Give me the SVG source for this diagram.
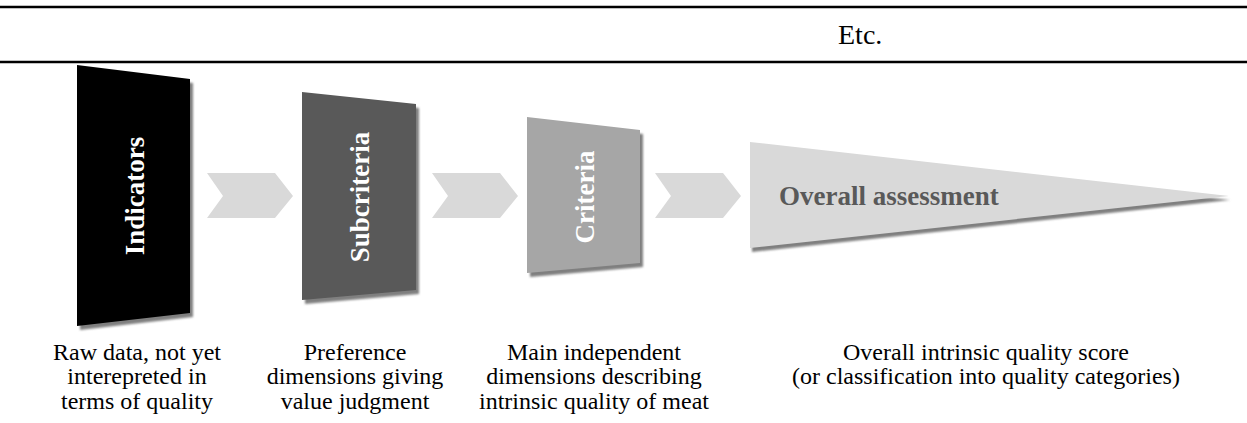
<svg xmlns="http://www.w3.org/2000/svg" width="1247" height="423" viewBox="0 0 1247 423">
<defs>
<filter id="sh" x="-10%" y="-10%" width="120%" height="120%"><feGaussianBlur stdDeviation="0.8"/></filter>
</defs>
<style>
.rule{stroke:#000;stroke-width:2.5}
.chev{fill:#d9d9d9}
.shadow{fill:#7f7f7f;filter:url(#sh)}
.boxlabel{font-family:"Liberation Serif","Times New Roman",serif;font-weight:bold;font-size:27px;fill:#fff;text-anchor:middle}
.cap{font-family:"Liberation Serif","Times New Roman",serif;font-size:24px;fill:#000;text-anchor:middle}
.etc{font-family:"Liberation Serif","Times New Roman",serif;font-size:28px;fill:#000}
</style>
<rect width="1247" height="423" fill="#fff"/>
<line class="rule" x1="0" y1="7" x2="1247" y2="7"/>
<line class="rule" x1="0" y1="62" x2="1247" y2="62"/>
<text class="etc" x="838" y="44">Etc.</text>

<g id="connectors">
<polygon class="chev" points="207,173 275,173 293,196 275,218 207,218 223,196"/>
<polygon class="chev" points="432,173 500,173 518,196 500,218 432,218 448,196"/>
<polygon class="chev" points="655,173 723,173 741,196 723,218 655,218 671,196"/>
</g>

<g id="indicators">
<polygon class="shadow" points="80,69 193,83 193,317 80,330"/>
<polygon fill="#000" points="77,65 190,79 190,313 77,326"/>
<text class="boxlabel" transform="translate(135,196) rotate(-90)" x="0" y="9">Indicators</text>
</g>

<g id="subcriteria">
<polygon class="shadow" points="305,96 419,108 419,294 305,304"/>
<polygon fill="#595959" points="302,92 416,104 416,290 302,300"/>
<text class="boxlabel" transform="translate(360,197) rotate(-90)" x="0" y="9">Subcriteria</text>
</g>

<g id="criteria">
<polygon class="shadow" points="530,121 643,134 643,267 530,277"/>
<polygon fill="#a6a6a6" points="527,117 640,130 640,263 527,273"/>
<text class="boxlabel" transform="translate(585,197) rotate(-90)" x="0" y="9">Criteria</text>
</g>

<g id="overall">
<polygon class="shadow" points="752,146 1230,200 752,252"/>
<polygon fill="#d9d9d9" points="750,142 1229,196 750,248"/>
<text x="779" y="205" font-family="Liberation Serif, serif" font-weight="bold" font-size="27" fill="#595959">Overall assessment</text>
</g>

<g id="captions">
<text class="cap" x="137" y="360">Raw data, not yet</text>
<text class="cap" x="137" y="384">interepreted in</text>
<text class="cap" x="137" y="409">terms of quality</text>
<text class="cap" x="355" y="360">Preference</text>
<text class="cap" x="355" y="384">dimensions giving</text>
<text class="cap" x="355" y="409">value judgment</text>
<text class="cap" x="594" y="360">Main independent</text>
<text class="cap" x="594" y="384">dimensions describing</text>
<text class="cap" x="594" y="409">intrinsic quality of meat</text>
<text class="cap" x="986" y="360">Overall intrinsic quality score</text>
<text class="cap" x="986" y="384">(or classification into quality categories)</text>
</g>
</svg>
